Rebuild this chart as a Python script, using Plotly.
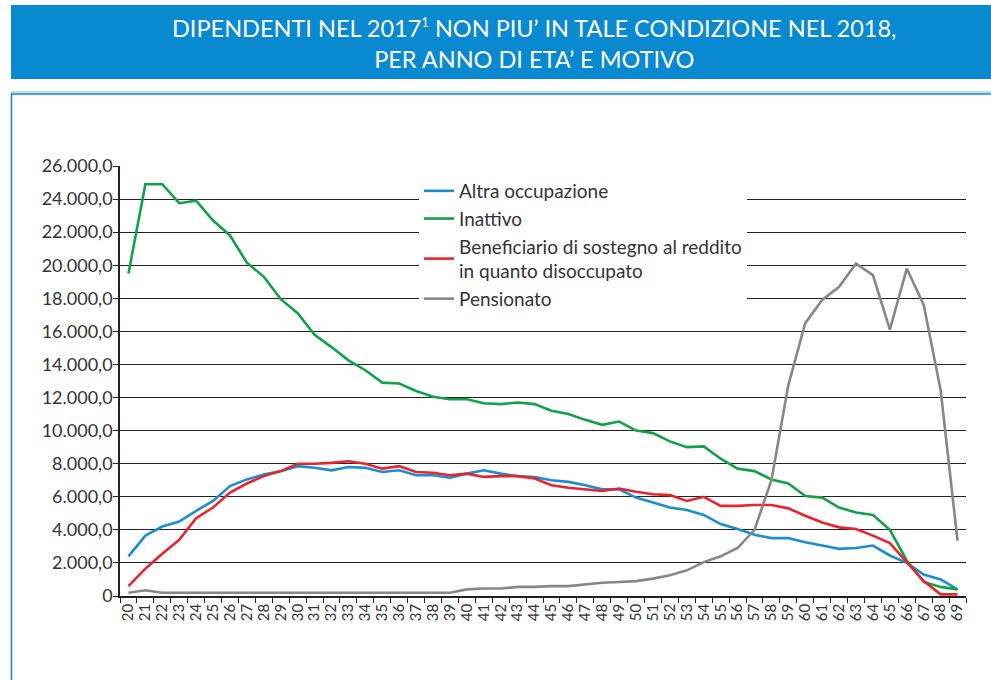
import plotly.graph_objects as go

W, H = 991, 680

eta = [str(a) for a in range(20, 70)]

altra_occupazione = [
    2400, 3650, 4200, 4500, 5150, 5750, 6650, 7050, 7350, 7550,
    7850, 7750, 7600, 7800, 7750, 7500, 7600, 7300, 7300, 7150,
    7400, 7600, 7400, 7250, 7200, 7000, 6900, 6700, 6450, 6450,
    5950, 5650, 5350, 5200, 4900, 4350, 4050, 3700, 3500, 3500,
    3250, 3050, 2850, 2900, 3050, 2450, 2000, 1300, 1000, 400,
]
inattivo = [
    19500, 24900, 24900, 23750, 23900, 22700, 21800, 20150, 19300, 17950,
    17100, 15800, 15050, 14250, 13650, 12900, 12850, 12400, 12050, 11900,
    11900, 11650, 11600, 11700, 11600, 11200, 11000, 10650, 10350, 10550,
    10000, 9850, 9350, 9000, 9050, 8300, 7700, 7550, 7050, 6800,
    6050, 5950, 5350, 5050, 4900, 4000, 2150, 850, 550, 400,
]
beneficiario = [
    600, 1650, 2550, 3400, 4700, 5350, 6250, 6800, 7250, 7550,
    8000, 8000, 8050, 8150, 8000, 7700, 7850, 7500, 7450, 7300,
    7400, 7200, 7250, 7250, 7100, 6700, 6550, 6450, 6350, 6500,
    6300, 6150, 6100, 5750, 6000, 5450, 5450, 5500, 5500, 5300,
    4850, 4450, 4150, 4050, 3650, 3200, 2050, 900, 100, 100,
]
pensionato = [
    200, 350, 200, 200, 200, 200, 200, 200, 200, 200,
    200, 200, 200, 200, 200, 200, 200, 200, 200, 200,
    400, 450, 450, 550, 550, 600, 600, 700, 800, 850,
    900, 1050, 1250, 1550, 2050, 2400, 2900, 4000, 7000, 12750,
    16500, 17900, 18700, 20100, 19400, 16100, 19800, 17600, 12450, 3350,
]

y_tick_vals = list(range(0, 26001, 2000))
y_tick_text = ["0"] + [f"{v // 1000}.000,0" for v in y_tick_vals[1:]]

serie = [
    ("Altra occupazione", altra_occupazione, "#1b8dd5"),
    ("Inattivo", inattivo, "#12a14b"),
    ("Beneficiario di sostegno al reddito<br>in quanto disoccupato", beneficiario, "#e8242c"),
    ("Pensionato", pensionato, "#878787"),
]

fig = go.Figure()
for nome, valori, colore in serie:
    fig.add_trace(go.Scatter(
        x=eta, y=valori, name=nome, mode="lines",
        line=dict(color=colore, width=2.6),
    ))


def px_x(p):
    return p / W


def px_y(p):
    return 1 - p / H


# banner del titolo e cornice
fig.add_shape(type="rect", xref="paper", yref="paper",
              x0=px_x(11), x1=1.0, y0=px_y(79), y1=px_y(5),
              fillcolor="#0989d0", line_width=0, layer="below")
fig.add_shape(type="line", xref="paper", yref="paper",
              x0=px_x(11), x1=1.0, y0=px_y(92), y1=px_y(92),
              line=dict(color="#9fd0ee", width=1.5))
fig.add_shape(type="line", xref="paper", yref="paper",
              x0=px_x(11), x1=1.0, y0=px_y(94), y1=px_y(94),
              line=dict(color="#1a86c8", width=1.5))
fig.add_shape(type="line", xref="paper", yref="paper",
              x0=px_x(11.5), x1=px_x(11.5), y0=0, y1=px_y(93),
              line=dict(color="#1a86c8", width=1.5))

fig.add_annotation(
    xref="paper", yref="paper", x=px_x(534), y=px_y(44),
    text="DIPENDENTI NEL 2017<sup><span style='font-size:13px'>1</span></sup> NON PIU’ IN TALE CONDIZIONE NEL 2018,<br>PER ANNO DI ETA’ E MOTIVO",
    showarrow=False, font=dict(family="Lato", size=23.5, color="white"),
    align="center", xanchor="center", yanchor="middle",
)

fig.update_layout(
    width=W, height=H,
    margin=dict(l=0, r=0, t=0, b=0),
    paper_bgcolor="white", plot_bgcolor="white",
    font=dict(family="Lato", color="#333333"),
    showlegend=True,
    legend=dict(
        x=px_x(419), y=px_y(172), xanchor="left", yanchor="top",
        bgcolor="white", font=dict(size=19, color="#333333"),
        tracegroupgap=6,
    ),
    xaxis=dict(
        domain=[px_x(120), px_x(966)],
        type="category", tickson="boundaries",
        range=[-0.5, len(eta) - 0.5],
        tickmode="array", tickvals=eta, ticktext=eta,
        showgrid=False, showline=True, linecolor="#222222", linewidth=1.5,
        ticks="outside", ticklen=5, tickcolor="#222222",
        tickangle=-90, tickfont=dict(size=15, color="#333333"),
        automargin=False,
    ),
    yaxis=dict(
        domain=[px_y(596), px_y(166)],
        range=[0, 26000],
        tickvals=y_tick_vals, ticktext=y_tick_text,
        showgrid=True, gridcolor="#222222", gridwidth=1.3,
        showline=True, linecolor="#222222", linewidth=1.5,
        ticks="outside", ticklen=5, tickcolor="#222222",
        tickfont=dict(size=18, color="#333333"),
        ticklabelstandoff=-3,
        zeroline=False, automargin=False,
    ),
)

fig.write_html(
    "out.html",
    config={"displayModeBar": False},
    post_script="document.body.style.margin='0';",
)
